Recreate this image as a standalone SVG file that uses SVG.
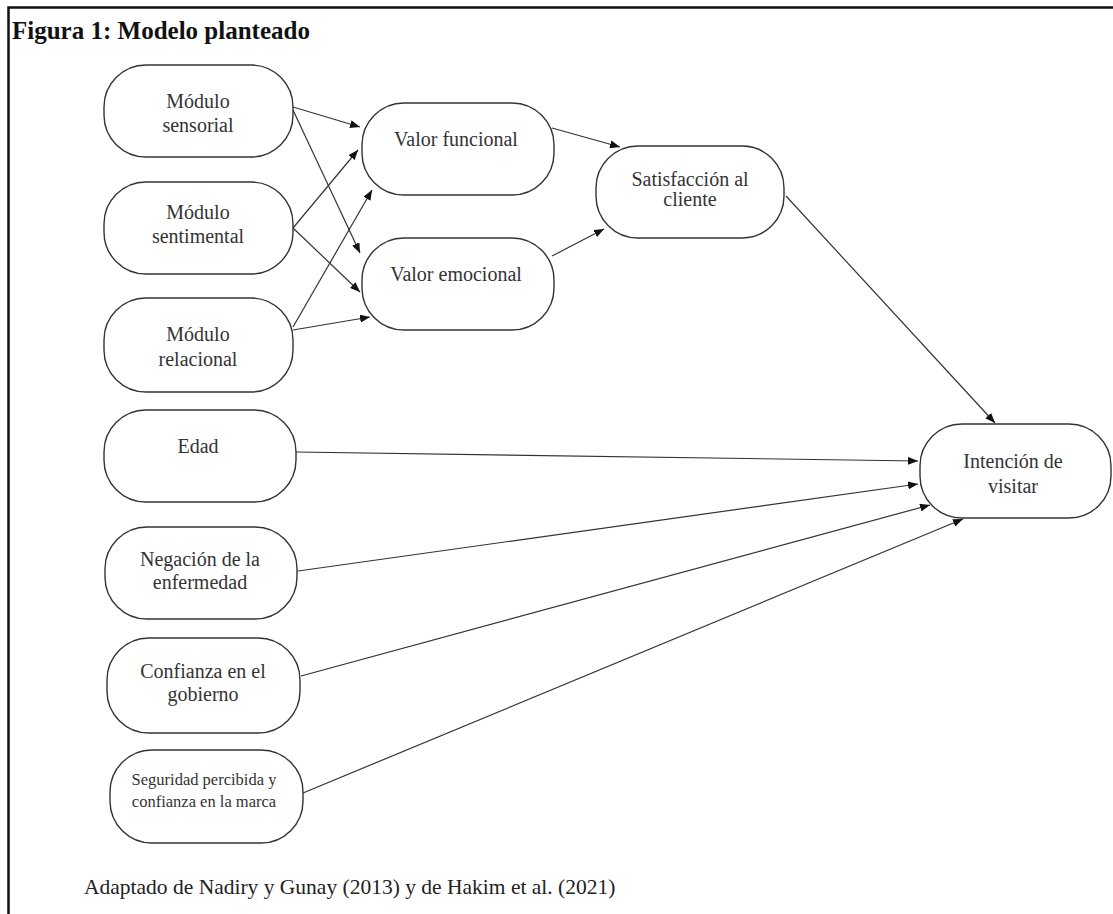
<svg xmlns="http://www.w3.org/2000/svg" width="1113" height="914" viewBox="0 0 1113 914">
<defs>
<style>
.n{fill:#fff;stroke:#333;stroke-width:1.4}
.t{font-family:"Liberation Serif","Times New Roman",serif;font-size:20px;fill:#333;text-anchor:middle}
.s{font-size:16.5px}
.e{stroke:#333;stroke-width:1.2;fill:none;marker-end:url(#a)}
</style>
<marker id="a" viewBox="0 0 10 8" refX="10" refY="4" markerWidth="10" markerHeight="8" markerUnits="userSpaceOnUse" orient="auto">
<path d="M0,0 L10,4 L0,8 z" fill="#111"/>
</marker>
</defs>
<rect width="1113" height="914" fill="#fff"/>
<path d="M8.5,914 V7.5 H1113" fill="none" stroke="#111" stroke-width="2.5"/>
<text x="12" y="39" font-family="'Liberation Serif',serif" font-size="25" font-weight="bold" fill="#111">Figura 1: Modelo planteado</text>
<g id="edges">
<line class="e" x1="293" y1="107" x2="360" y2="127"/>
<line class="e" x1="293" y1="110" x2="360" y2="253"/>
<line class="e" x1="293" y1="228" x2="358" y2="150"/>
<line class="e" x1="293" y1="228" x2="360" y2="292"/>
<line class="e" x1="293" y1="327" x2="372" y2="190"/>
<line class="e" x1="293" y1="330" x2="370" y2="317"/>
<line class="e" x1="552" y1="128" x2="620" y2="147"/>
<line class="e" x1="552" y1="256" x2="604" y2="229"/>
<line class="e" x1="786" y1="196" x2="995" y2="423"/>
<line class="e" x1="296" y1="452" x2="918" y2="461"/>
<line class="e" x1="298" y1="571" x2="918" y2="484"/>
<line class="e" x1="301" y1="676" x2="930" y2="505"/>
<line class="e" x1="303" y1="793" x2="963" y2="519"/>
</g>
<g id="sensorial"><rect class="n" x="104" y="65" width="189" height="92" rx="42"/><text class="t" x="198" y="108">Módulo</text><text class="t" x="198" y="132">sensorial</text></g>
<g id="sentimental"><rect class="n" x="104" y="182" width="189" height="92" rx="42"/><text class="t" x="198" y="219">Módulo</text><text class="t" x="198" y="243">sentimental</text></g>
<g id="relacional"><rect class="n" x="104" y="298" width="189" height="94" rx="42"/><text class="t" x="198" y="341">Módulo</text><text class="t" x="198" y="366">relacional</text></g>
<g id="edad"><rect class="n" x="104" y="410" width="192" height="92" rx="42"/><text class="t" x="198" y="453">Edad</text></g>
<g id="negacion"><rect class="n" x="105" y="527" width="192" height="92" rx="42"/><text class="t" x="200" y="566">Negación de la</text><text class="t" x="200" y="589">enfermedad</text></g>
<g id="confianza"><rect class="n" x="107" y="638" width="193" height="95" rx="42"/><text class="t" x="203" y="678">Confianza en el</text><text class="t" x="203" y="701">gobierno</text></g>
<g id="seguridad"><rect class="n" x="110" y="750" width="193" height="93" rx="42"/><text class="t s" x="204" y="785">Seguridad percibida y</text><text class="t s" x="204" y="807">confianza en la marca</text></g>
<g id="funcional"><rect class="n" x="362" y="103" width="192" height="92" rx="42"/><text class="t" x="456" y="146">Valor funcional</text></g>
<g id="emocional"><rect class="n" x="362" y="238" width="192" height="92" rx="42"/><text class="t" x="456" y="281">Valor emocional</text></g>
<g id="satisfaccion"><rect class="n" x="596" y="146" width="188" height="92" rx="42"/><text class="t" x="690" y="186">Satisfacción al</text><text class="t" x="690" y="206">cliente</text></g>
<g id="intencion"><rect class="n" x="920" y="424" width="191" height="94" rx="42"/><text class="t" x="1013" y="468">Intención de</text><text class="t" x="1013" y="493">visitar</text></g>
<text x="84" y="894" font-family="'Liberation Serif',serif" font-size="21.5" fill="#222">Adaptado de Nadiry y Gunay (2013) y de Hakim et al. (2021)</text>
</svg>
